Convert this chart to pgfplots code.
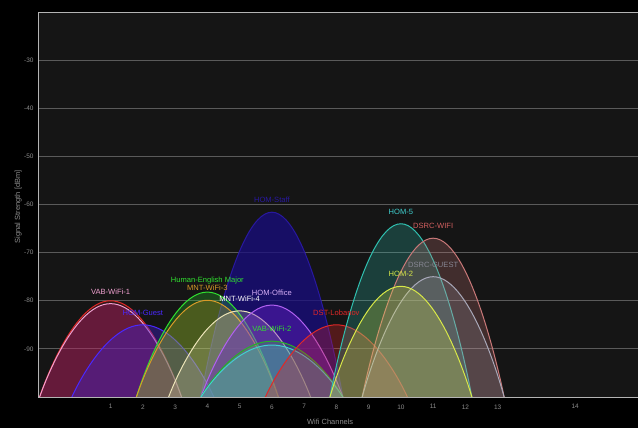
\documentclass[border=0pt]{standalone}
\usepackage{fontspec}
\setmainfont{Liberation Sans}
\usepackage{pgfplots}
\pgfplotsset{compat=1.18}
\definecolor{plotbg}{HTML}{151515}
\definecolor{axisgray}{HTML}{B4B4B4}
\definecolor{gridgray}{HTML}{5A5A5A}
\definecolor{txtgray}{HTML}{8C8C8C}
\definecolor{cpink}{HTML}{F0A0D0}
\definecolor{cpinkf}{HTML}{B02070}
\definecolor{cred}{HTML}{E02828}
\definecolor{cblue}{HTML}{4A28FF}
\definecolor{cbluef}{HTML}{4020D0}
\definecolor{cgreen}{HTML}{30E030}
\definecolor{corange}{HTML}{D89A28}
\definecolor{ccream}{HTML}{ECE4B8}
\definecolor{cpurple}{HTML}{B060F0}
\definecolor{cpurplef}{HTML}{7020D0}
\definecolor{cnavy}{HTML}{2818A0}
\definecolor{cnavyf}{HTML}{180C80}
\definecolor{ccyan}{HTML}{40D0D0}
\definecolor{cteal}{HTML}{30C0B0}
\definecolor{csalmon}{HTML}{C87878}
\definecolor{cgrayl}{HTML}{A8A8B8}
\definecolor{cyellow}{HTML}{D8E848}
\newcommand\lab[4]{\node[text=#4, font=\fontsize{7.6}{8}\selectfont, inner sep=0pt] at (axis cs:#1,#2) [yshift=12bp] {#3};}
\begin{document}
\begin{tikzpicture}
\fill[black] (0,0) rectangle (638bp,428bp);
\begin{axis}[
  at={(38bp,31bp)}, anchor=south west,
  scale only axis, width=600bp, height=385bp,
  xmin=-1.25, xmax=17.35, ymin=-100, ymax=-20,
  axis background/.style={fill=plotbg},
  axis line style={draw=axisgray, line width=0.9pt},
  ymajorgrids, grid style={draw=gridgray, line width=0.8pt},
  major tick length=0pt,
  ytick={-90,-80,-70,-60,-50,-40,-30},
  yticklabels={-90,-80,-70,-60,-50,-40,-30},
  xtick={1,2,3,4,5,6,7,8,9,10,11,12,13,15.4},
  xticklabels={1,2,3,4,5,6,7,8,9,10,11,12,13,14},
  tick label style={font=\fontsize{6.5}{7}\selectfont, text=txtgray},
  xticklabel style={yshift=-4bp},
  yticklabel style={xshift=-1bp},
  xlabel={Wifi Channels}, ylabel={Signal Strength [dBm]},
  every axis x label/.style={at={(axis description cs:0.487,-0.065)}, anchor=center, font=\fontsize{7.5}{8}\selectfont, text=txtgray},
  every axis y label/.style={at={(axis description cs:-0.033,0.494)}, anchor=center, rotate=90, font=\fontsize{7.5}{8}\selectfont, text=txtgray},
  every axis plot/.append style={smooth, tension=1, line width=1bp, fill opacity=0.35, draw opacity=1},
  clip=true,
]
% navy ch6
\addplot[draw=cnavy, fill=cnavyf, fill opacity=0.75] coordinates {(3.8,-100) (6,-61.6) (8.2,-100)};
% red ch1
\addplot[draw=cred, fill=cred, fill opacity=0.15] coordinates {(-1.2,-100) (1,-80.0) (3.2,-100)};
% pink ch1
\addplot[draw=cpink, fill=cpinkf, fill opacity=0.4] coordinates {(-1.2,-100) (1,-80.6) (3.2,-100)};
% blue ch2
\addplot[draw=cblue, fill=cbluef, fill opacity=0.4] coordinates {(-0.2,-100) (2,-85) (4.2,-100)};
% green ch4
\addplot[draw=cgreen, fill=cgreen, fill opacity=0.25] coordinates {(1.8,-100) (4,-78.2) (6.2,-100)};
% orange ch4
\addplot[draw=corange, fill=corange, fill opacity=0.25] coordinates {(1.8,-100) (4,-79.9) (6.2,-100)};
% cream ch5
\addplot[draw=ccream, fill=ccream, fill opacity=0.22] coordinates {(2.8,-100) (5,-82.1) (7.2,-100)};
% purple ch6
\addplot[draw=cpurple, fill=cpurplef, fill opacity=0.4] coordinates {(3.8,-100) (6,-80.9) (8.2,-100)};
% green ch6
\addplot[draw=cgreen!80!black, fill=cgreen, fill opacity=0.2] coordinates {(3.8,-100) (6,-88.4) (8.2,-100)};
% cyan ch6
\addplot[draw=ccyan, fill=ccyan, fill opacity=0.25] coordinates {(3.8,-100) (6,-89.2) (8.2,-100)};
% red ch8
\addplot[draw=cred, fill=cred, fill opacity=0.3] coordinates {(5.8,-100) (8,-85) (10.2,-100)};
% cyan ch10
\addplot[draw=cteal, fill=cteal, fill opacity=0.25] coordinates {(7.8,-100) (10,-64) (12.2,-100)};
% salmon ch11
\addplot[draw=csalmon, fill=csalmon, fill opacity=0.25] coordinates {(8.8,-100) (11,-67) (13.2,-100)};
% gray ch11
\addplot[draw=cgrayl, fill=cgrayl, fill opacity=0.2] coordinates {(8.8,-100) (11,-75) (13.2,-100)};
% yellow ch10
\addplot[draw=cyellow, fill=cyellow, fill opacity=0.25] coordinates {(7.8,-100) (10,-77) (12.2,-100)};
% labels
\lab{6}{-61.6}{HOM-Staff}{cnavy}
\lab{2}{-85}{HOM-Guest}{cblue}
\lab{1}{-80.6}{VAB-WiFi-1}{cpink}
\lab{4}{-78.2}{Human-English Major}{cgreen}
\lab{4}{-79.9}{MNT-WiFi-3}{corange}
\lab{5}{-82.1}{MNT-WiFi-4}{white}
\lab{6}{-80.9}{HOM-Office}{cpurple!50!white}
\lab{6}{-88.4}{VAB-WiFi-2}{cgreen}
\lab{8}{-85}{DST-Lobanov}{cred}
\lab{10}{-64}{HOM-5}{ccyan}
\lab{11}{-67}{DSRC-WIFI}{csalmon!80!red}
\lab{11}{-75}{DSRC-GUEST}{cgrayl!80!black}
\lab{10}{-77}{HOM-2}{cyellow}
\end{axis}
\pgfresetboundingbox
\path[use as bounding box] (0,0) rectangle (638bp,428bp);
\end{tikzpicture}
\end{document}
